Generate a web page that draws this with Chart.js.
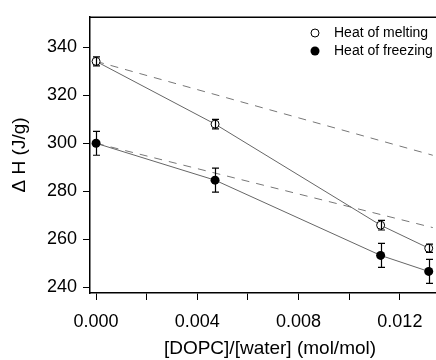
<!DOCTYPE html>
<html>
<head>
<meta charset="utf-8">
<script src="https://cdn.jsdelivr.net/npm/chart.js@4.4.1/dist/chart.umd.min.js"></script>
<style>
  html, body { margin: 0; padding: 0; background: #fff; overflow: hidden; }
  #wrap { position: relative; width: 455px; height: 360px; }
</style>
</head>
<body>
<div id="wrap"><canvas id="chart" width="455" height="360"></canvas></div>
<script>
// mole ratio [DOPC]/[water]
const ratios = [0, 0.0047, 0.01124, 0.01314];
const meltVals = [334.2, 308, 265.8, 256.2];
const meltErr = [1.9, 2, 2, 1.7];
const freezeVals = [300, 284.6, 253.2, 246.5];
const freezeErr = [5, 5, 5, 5];

// dashed reference lines
const idealX = [0, 0.0133];
const idealMelt = [334.2, 295];
const idealFreeze = [300, 264.8];

const xTicks = [0, 0.002, 0.004, 0.006, 0.008, 0.010, 0.012];
const yTicks = [240, 260, 280, 300, 320, 340];

const pts = (xs, ys) => xs.map((x, i) => ({ x: x, y: ys[i] }));

const errorBars = {
    id: 'errorBars',
    afterDatasetsDraw(chart) {
        const { ctx, scales: { x, y } } = chart;
        ctx.save();
        ctx.strokeStyle = '#000';
        ctx.lineWidth = 1.2;
        [[meltVals, meltErr], [freezeVals, freezeErr]].forEach(([vals, errs]) => {
            ratios.forEach((r, i) => {
                const px = Math.round(x.getPixelForValue(r)) + 0.5;
                const top = y.getPixelForValue(vals[i] + errs[i]);
                const bot = y.getPixelForValue(vals[i] - errs[i]);
                ctx.beginPath();
                ctx.moveTo(px, top); ctx.lineTo(px, bot);
                ctx.moveTo(px - 3.5, top); ctx.lineTo(px + 3.5, top);
                ctx.moveTo(px - 3.5, bot); ctx.lineTo(px + 3.5, bot);
                ctx.stroke();
            });
        });
        ctx.restore();
    }
};

const frame = {
    id: 'frame',
    afterDraw(chart) {
        const { ctx, chartArea: a } = chart;
        ctx.save();
        ctx.strokeStyle = '#000';
        ctx.lineWidth = 1.5;
        ctx.beginPath();
        ctx.moveTo(a.left, a.top + 0.5);
        ctx.lineTo(a.right, a.top + 0.5);
        ctx.stroke();

        // legend
        ctx.font = '14px "Liberation Sans", Arial, sans-serif';
        ctx.textBaseline = 'middle';
        ctx.lineWidth = 1;
        ctx.beginPath();
        ctx.arc(315, 33, 4, 0, Math.PI * 2);
        ctx.fillStyle = '#fff'; ctx.fill();
        ctx.strokeStyle = '#000'; ctx.stroke();
        ctx.beginPath();
        ctx.arc(315, 51, 4.5, 0, Math.PI * 2);
        ctx.fillStyle = '#000'; ctx.fill();
        ctx.fillText('Heat of melting', 334, 33);
        ctx.fillText('Heat of freezing', 334, 51);
        ctx.restore();
    }
};

new Chart(document.getElementById('chart'), {
    type: 'scatter',
    data: {
        datasets: [
            {
                label: 'Heat of melting',
                data: pts(ratios, meltVals),
                showLine: true,
                borderColor: '#666', borderWidth: 1,
                pointRadius: 4, pointBackgroundColor: '#fff',
                pointBorderColor: '#000', pointBorderWidth: 1
            },
            {
                label: 'Heat of freezing',
                data: pts(ratios, freezeVals),
                showLine: true,
                borderColor: '#666', borderWidth: 1,
                pointRadius: 4.5, pointBackgroundColor: '#000',
                pointBorderColor: '#000', pointBorderWidth: 0
            },
            {
                label: 'ideal melting',
                data: pts(idealX, idealMelt),
                showLine: true, pointRadius: 0,
                borderColor: '#777', borderWidth: 1, borderDash: [8, 7]
            },
            {
                label: 'ideal freezing',
                data: pts(idealX, idealFreeze),
                showLine: true, pointRadius: 0,
                borderColor: '#777', borderWidth: 1, borderDash: [8, 7]
            }
        ]
    },
    options: {
        responsive: false,
        animation: false,
        layout: { padding: { top: 15, right: 2, left: 0, bottom: 0 } },
        plugins: { legend: { display: false }, tooltip: { enabled: false } },
        scales: {
            x: {
                type: 'linear',
                min: -0.00024, max: 0.01398,
                afterBuildTicks: s => { s.ticks = xTicks.map(v => ({ value: v })); },
                afterFit: s => { s.height = 67; },
                grid: { drawOnChartArea: false, tickLength: 7, tickColor: '#000', tickWidth: 1 },
                border: { color: '#000', width: 1.5 },
                ticks: {
                    color: '#000', padding: 11, maxRotation: 0,
                    font: { family: '"Liberation Sans", Arial, sans-serif', size: 18 },
                    callback: v => (Math.round(v * 1000) % 4 === 0 ? v.toFixed(3) : '')
                },
                title: {
                    display: true, text: '[DOPC]/[water] (mol/mol)', color: '#000',
                    padding: { top: 0, bottom: 0 },
                    font: { family: '"Liberation Sans", Arial, sans-serif', size: 19 }
                }
            },
            y: {
                min: 237.5, max: 352.8,
                afterBuildTicks: s => { s.ticks = yTicks.map(v => ({ value: v })); },
                afterFit: s => { s.width = 90; },
                grid: { drawOnChartArea: false, tickLength: 7, tickColor: '#000', tickWidth: 1 },
                border: { color: '#000', width: 1.5 },
                ticks: {
                    color: '#000', padding: 6,
                    font: { family: '"Liberation Sans", Arial, sans-serif', size: 18 }
                },
                title: {
                    display: true, text: 'Δ H (J/g)', color: '#000',
                    padding: { top: 8, bottom: 0 },
                    font: { family: '"Liberation Sans", Arial, sans-serif', size: 19 }
                }
            }
        }
    },
    plugins: [errorBars, frame]
});
</script>
</body>
</html>
